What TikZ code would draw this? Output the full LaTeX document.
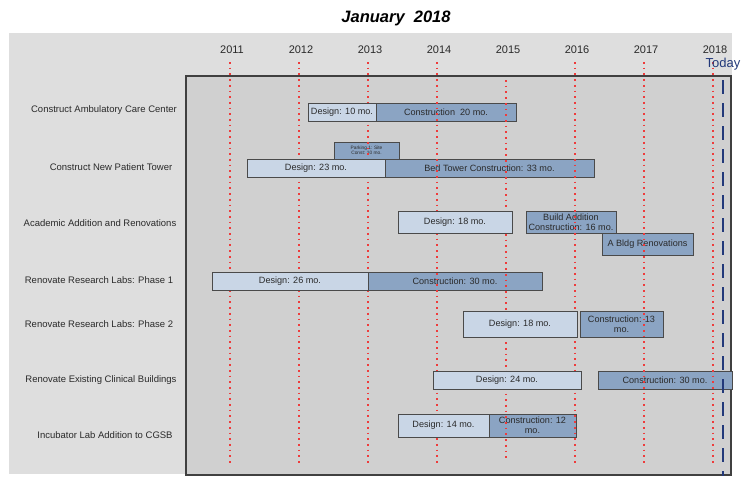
\documentclass[tikz,border=0pt]{standalone}
\usepackage{fontspec}
\setmainfont{Liberation Sans}
\definecolor{outerbg}{HTML}{DEDEDE}
\definecolor{plotbg}{HTML}{D0D0D0}
\definecolor{designc}{HTML}{C9D6E6}
\definecolor{constc}{HTML}{8BA4C3}
\definecolor{barline}{HTML}{4A4A4A}
\definecolor{gridred}{HTML}{EE3B3B}
\definecolor{todayc}{HTML}{22397A}
\definecolor{txt}{HTML}{2A2A2A}
\tikzset{
  bar/.style={draw=barline, line width=0.8pt, inner sep=0pt, align=center,
    text=txt, font=\fontsize{9.1}{9.6}\selectfont},
  dbar/.style={bar, fill=designc},
  cbar/.style={bar, fill=constc},
  rowlabel/.style={text=txt, font=\fontsize{9.5}{11}\selectfont, anchor=center},
  yearlabel/.style={text=txt, font=\fontsize{11}{13}\selectfont},
  gridline/.style={draw=gridred, line width=1.7pt, dash pattern=on 1.7pt off 4pt}
}
\begin{document}
\begin{tikzpicture}[x=1pt,y=-1pt]
\useasboundingbox (0,0) rectangle (742,477);
% backgrounds
\fill[outerbg] (9,33) rectangle (732,474);
\draw[fill=plotbg, draw=black!75, line width=1.4pt] (186,76) rectangle (731,475);
% title
\node[font=\bfseries\itshape\fontsize{16.5}{19}\selectfont] (title) at (396,18) {January\ \ 2018};
% years
\foreach \yr [count=\i from 0] in {2011,...,2018}{
  \node[yearlabel] (y\yr) at ({232+69*\i},50) {\yr};
}
% construction bars (under grid)
\node[cbar, minimum width=140pt, minimum height=18pt] (c1) at (446,112) {Construction\ \ 20 mo.};
\node[cbar, minimum width=65pt, minimum height=17pt, font=\fontsize{4.8}{5.2}\selectfont] (p2) at (366.5,150.5) {Parking 1: Site\\Const: 10 mo.};
\node[cbar, minimum width=209pt, minimum height=18pt] (c2) at (489.5,168) {Bed Tower Construction: 33 mo.};
\node[cbar, minimum width=90pt, minimum height=22pt] (c3) at (571,222) {Build Addition\\Construction: 16 mo.};
\node[cbar, minimum width=91pt, minimum height=22pt] (r3) at (647.5,244) {A Bldg Renovations};
\node[cbar, minimum width=174pt, minimum height=18pt] (c4) at (455,281) {Construction: 30 mo.};
\node[cbar, minimum width=83pt, minimum height=26pt] (c5) at (621.5,324) {Construction: 13\\mo.};
\node[cbar, minimum width=134pt, minimum height=18pt] (c6) at (665,380) {Construction: 30 mo.};
\node[cbar, minimum width=87pt, minimum height=23pt] (c7) at (532.5,425.5) {Construction: 12\\mo.};
% grid lines
\foreach \i in {0,1,2,3,5,6,7}{
  \coordinate (gt\i) at ({230+69*\i},62);
  \coordinate (gb\i) at ({230+69*\i},463);
  \draw[gridline] (gt\i) -- (gb\i);
}
\coordinate (gt4) at (506,80);
\coordinate (gb4) at (506,458);
\draw[gridline] (gt4) -- (gb4);
% design bars
\node[dbar, minimum width=68pt, minimum height=18pt] (d1) at (342,112) {Design: 10 mo.};
\node[dbar, minimum width=138pt, minimum height=18pt] (d2) at (316,168) {Design: 23 mo.};
\node[dbar, minimum width=114pt, minimum height=22pt] (d3) at (455,222) {Design: 18 mo.};
\node[dbar, minimum width=156pt, minimum height=18pt] (d4) at (290,281) {Design: 26 mo.};
\node[dbar, minimum width=114pt, minimum height=26pt] (d5) at (520,324) {Design: 18 mo.};
\node[dbar, minimum width=148pt, minimum height=18pt] (d6) at (507,380) {Design: 24 mo.};
\node[dbar, minimum width=91pt, minimum height=23pt] (d7) at (443.5,425.5) {Design: 14 mo.};
% today
\coordinate (tt) at (723,80);
\coordinate (tb) at (723,476);
\draw[todayc, line width=2pt, dash pattern=on 14pt off 9pt] (tt) -- (tb);
\node[text=todayc, font=\fontsize{13}{15}\selectfont] (today) at (723,64) {Today};
% row labels
\node[rowlabel] (l1) at (104,110) {Construct Ambulatory Care Center};
\node[rowlabel] (l2) at (111,167) {Construct New Patient Tower};
\node[rowlabel] (l3) at (100,223) {Academic Addition and Renovations};
\node[rowlabel] (l4) at (99,280) {Renovate Research Labs: Phase 1};
\node[rowlabel] (l5) at (99,324) {Renovate Research Labs: Phase 2};
\node[rowlabel] (l6) at (101,380) {Renovate Existing Clinical Buildings};
\node[rowlabel] (l7) at (105,435) {Incubator Lab Addition to CGSB};
\end{tikzpicture}
\end{document}
